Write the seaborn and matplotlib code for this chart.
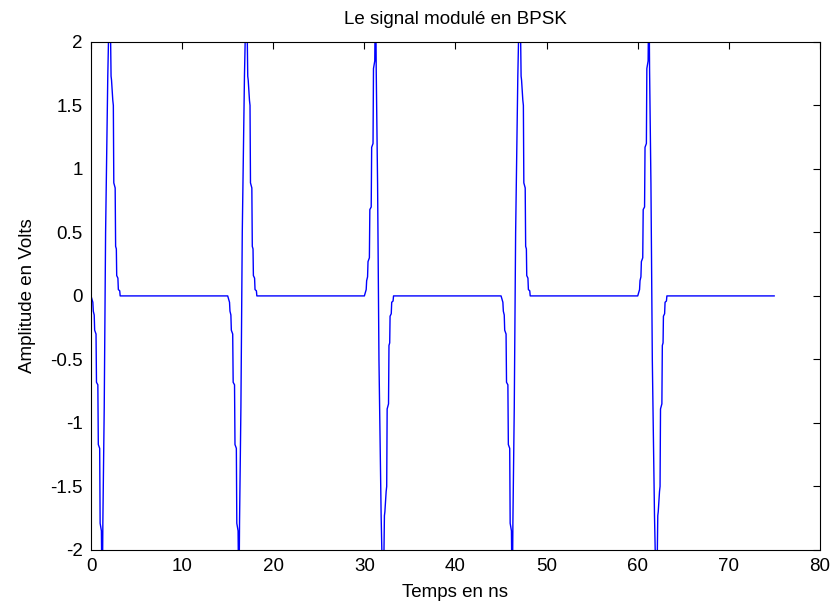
import numpy as np
import pandas as pd
import seaborn as sns
import matplotlib.pyplot as plt

sns.set_theme(style="white")
plt.rcParams['font.family'] = ['Liberation Sans', 'DejaVu Sans']
plt.rcParams['axes.unicode_minus'] = False
plt.rcParams['text.color'] = 'black'
plt.rcParams['axes.labelcolor'] = 'black'

# one pulse (negative lobe first)
pulse_t = [0.0, 0.2, 0.25, 0.35, 0.4, 0.55, 0.6, 0.75, 0.8, 0.95, 1.0, 1.14,
           1.2, 1.25, 1.3, 1.45, 1.6, 1.84, 2.0, 2.1, 2.2, 2.25, 2.39, 2.45,
           2.5, 2.65, 2.7, 2.78, 2.82, 2.95, 3.0, 3.15, 3.2]
pulse_v = [0.0, -0.05, -0.12, -0.15, -0.27, -0.3, -0.68, -0.7, -1.17, -1.2,
           -1.79, -1.85, -2.3, -2.3, -1.78, -0.88, 0.5, 1.73, 2.3, 2.3, 1.73,
           1.7, 1.54, 1.5, 0.89, 0.85, 0.39, 0.37, 0.16, 0.14, 0.05, 0.04, 0.0]

symbol_start = [0, 15, 30, 45, 60]
polarity = [1, 1, -1, 1, -1]
t_end = 75

t_all, v_all = [], []
for start, p in zip(symbol_start, polarity):
    t_all += [start + dt for dt in pulse_t]
    v_all += [p * v for v in pulse_v]
t_all.append(t_end)
v_all.append(0.0)

df = pd.DataFrame({"t": t_all, "v": v_all})

fig = plt.figure(figsize=(8.35, 6.07), dpi=100)
ax = fig.add_axes([0.109, 0.094, 0.873, 0.837])

sns.lineplot(data=df, x="t", y="v", ax=ax, color=(0, 0, 1), linewidth=1,
             estimator=None, sort=False)

ax.set_xlim(0, 80)
ax.set_ylim(-2, 2)
ax.set_xticks(np.arange(0, 81, 10))
ax.set_yticks(np.arange(-2, 2.01, 0.5))
ax.set_yticklabels(['-2', '-1.5', '-1', '-0.5', '0', '0.5', '1', '1.5', '2'])

ax.tick_params(direction='in', length=5, width=0.8, top=True, right=True,
               labelsize=13.5, colors='black', pad=6)
for s in ax.spines.values():
    s.set_color('black')
    s.set_linewidth(0.8)

ax.set_title("Le signal modulé en BPSK", fontsize=13.5, pad=13, color='black')
ax.set_xlabel("Temps en ns", fontsize=13.5, labelpad=6)
ax.set_ylabel("Amplitude en Volts", fontsize=13.5, labelpad=10)

plt.savefig("out.png", dpi=100)
